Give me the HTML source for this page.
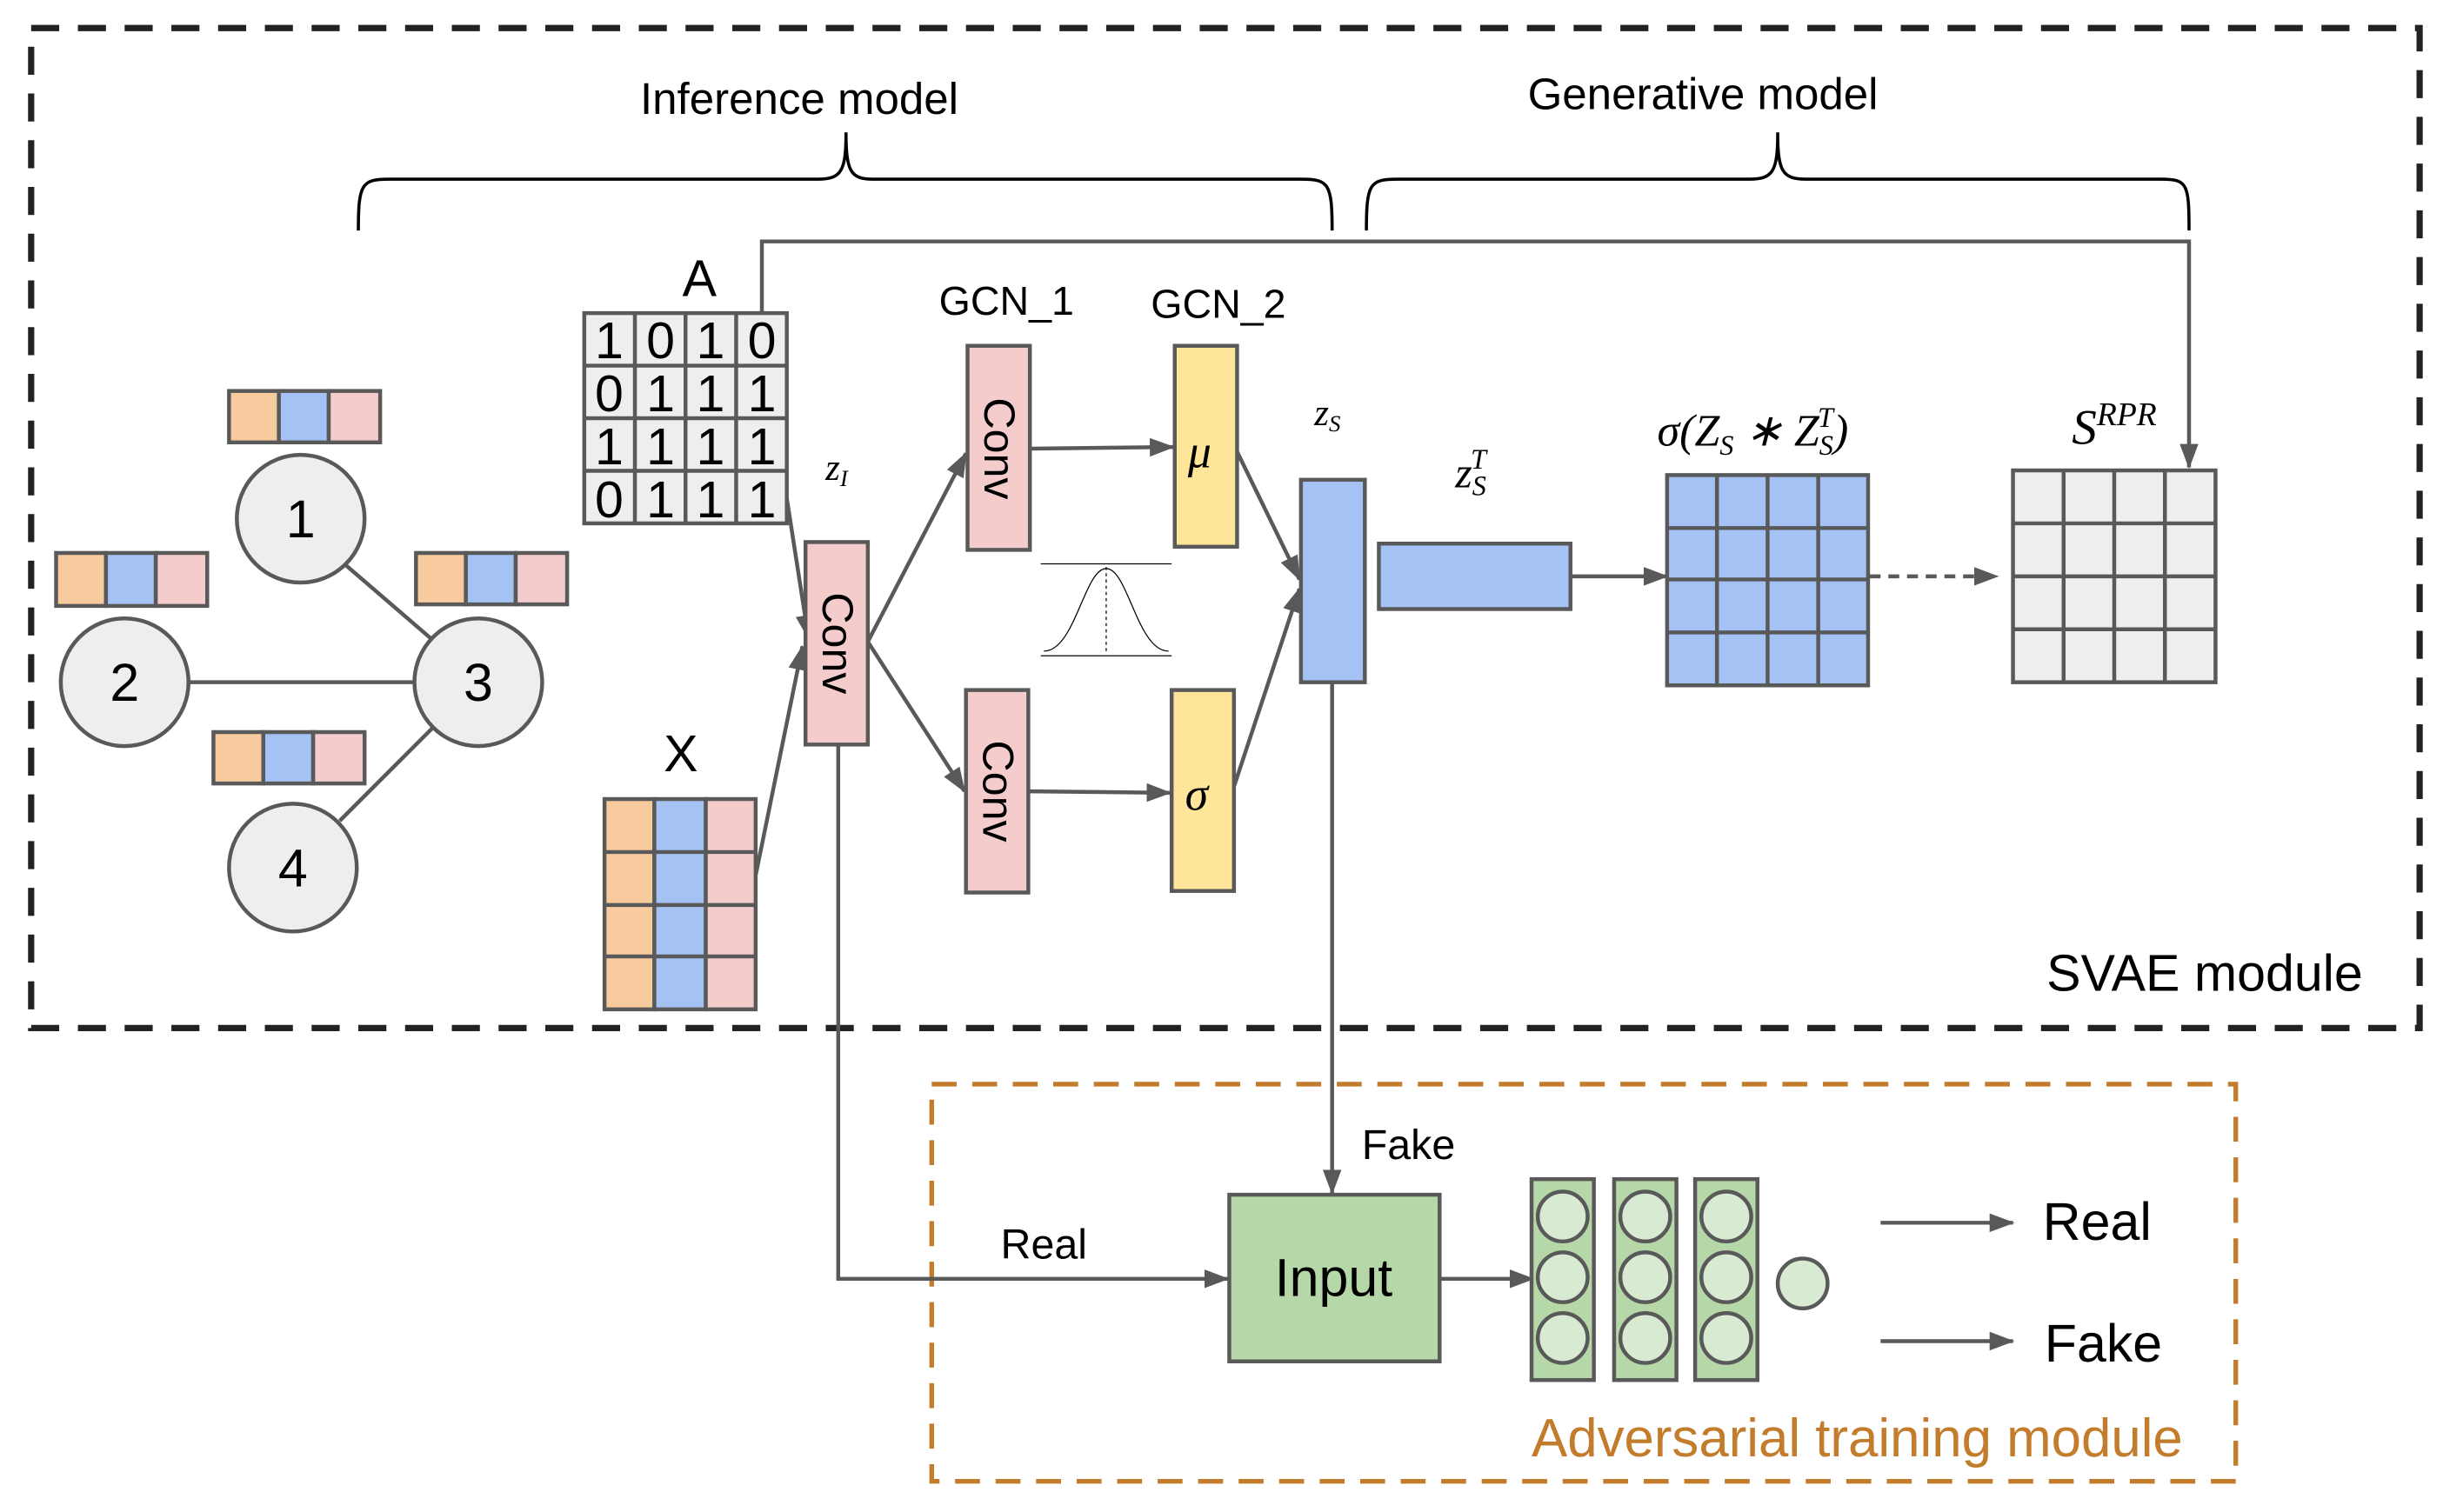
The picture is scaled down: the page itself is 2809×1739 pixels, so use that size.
<!DOCTYPE html>
<html><head><meta charset="utf-8"><style>
html,body{margin:0;padding:0;background:#fff;}
svg{display:block;}
text{font-family:"Liberation Sans",sans-serif;fill:#000;}
.m{font-family:"Liberation Serif",serif;font-style:italic;}
</style></head><body>
<svg width="2809" height="1739" viewBox="0 0 1568 970.7" preserveAspectRatio="none" xmlns="http://www.w3.org/2000/svg">
<defs>
<marker id="ar2" markerWidth="16" markerHeight="12" refX="15" refY="6" orient="auto" markerUnits="userSpaceOnUse">
<path d="M0,0 L16,6 L0,12 z" fill="#595959"/></marker>
</defs>
<g fill="none">
<rect x="20" y="18" width="1533" height="642" stroke="#222" stroke-width="4" stroke-dasharray="18,12"/>
<rect x="598" y="696" width="837" height="255" stroke="#c27c2c" stroke-width="3" stroke-dasharray="16,10"/>
<path d="M230,148 C230,118 232,115 250,115 L525,115 C540,115 543,110 543,85 C543,110 546,115 560,115 L835,115 C853,115 855,118 855,148" stroke="#000" stroke-width="2"/>
<path d="M877,148 C877,118 879,115 897,115 L1123,115 C1138,115 1141,110 1141,85 C1141,110 1144,115 1159,115 L1387,115 C1404,115 1405,118 1405,148" stroke="#000" stroke-width="2"/>
</g>
<text x="513" y="73" font-size="28.5" text-anchor="middle">Inference model</text>
<text x="1093" y="70" font-size="28.5" text-anchor="middle">Generative model</text>

<g stroke="#595959" stroke-width="2.5" fill="none">
<polyline points="489,200 489,155 1405,155 1405,300" marker-end="url(#ar2)"/>
<line x1="221" y1="362" x2="279" y2="412"/>
<line x1="121" y1="438" x2="266" y2="438"/>
<line x1="279" y1="466" x2="218" y2="527"/>
</g>
<g stroke="#595959" stroke-width="2.5">
<rect x="147" y="251" width="32" height="33" fill="#f8cb9e"/><rect x="179" y="251" width="32" height="33" fill="#a4c2f4"/><rect x="211" y="251" width="33" height="33" fill="#f4cccc"/>
<rect x="36" y="355" width="32" height="34" fill="#f8cb9e"/><rect x="68" y="355" width="32" height="34" fill="#a4c2f4"/><rect x="100" y="355" width="33" height="34" fill="#f4cccc"/>
<rect x="267" y="355" width="32" height="33" fill="#f8cb9e"/><rect x="299" y="355" width="32" height="33" fill="#a4c2f4"/><rect x="331" y="355" width="33" height="33" fill="#f4cccc"/>
<rect x="137" y="470" width="32" height="33" fill="#f8cb9e"/><rect x="169" y="470" width="32" height="33" fill="#a4c2f4"/><rect x="201" y="470" width="33" height="33" fill="#f4cccc"/>
<circle cx="193" cy="333" r="41" fill="#eeeeee"/>
<circle cx="80" cy="438" r="41" fill="#eeeeee"/>
<circle cx="307" cy="438" r="41" fill="#eeeeee"/>
<circle cx="188" cy="557" r="41" fill="#eeeeee"/>
</g>
<g font-size="34" text-anchor="middle">
<text x="193" y="345">1</text><text x="80" y="450">2</text><text x="307" y="450">3</text><text x="188" y="569">4</text>
</g>

<text x="449" y="190" font-size="33" text-anchor="middle">A</text>
<g stroke="#595959" stroke-width="2.5" fill="#eeeeee">
<rect x="375" y="201" width="130" height="135"/>
<line x1="407.5" y1="201" x2="407.5" y2="336"/><line x1="440" y1="201" x2="440" y2="336"/><line x1="472.5" y1="201" x2="472.5" y2="336"/>
<line x1="375" y1="234.75" x2="505" y2="234.75"/><line x1="375" y1="268.5" x2="505" y2="268.5"/><line x1="375" y1="302.25" x2="505" y2="302.25"/>
</g>
<g font-size="33" text-anchor="middle">
<text x="391" y="230">1</text><text x="424" y="230">0</text><text x="456" y="230">1</text><text x="489" y="230">0</text>
<text x="391" y="264">0</text><text x="424" y="264">1</text><text x="456" y="264">1</text><text x="489" y="264">1</text>
<text x="391" y="298">1</text><text x="424" y="298">1</text><text x="456" y="298">1</text><text x="489" y="298">1</text>
<text x="391" y="332">0</text><text x="424" y="332">1</text><text x="456" y="332">1</text><text x="489" y="332">1</text>
</g>
<text x="437" y="495" font-size="33" text-anchor="middle">X</text>
<g stroke="#595959" stroke-width="2.5">
<rect x="388" y="513" width="32" height="135" fill="#f8cb9e"/>
<rect x="420" y="513" width="33" height="135" fill="#a4c2f4"/>
<rect x="453" y="513" width="32" height="135" fill="#f4cccc"/>
<line x1="388" y1="547" x2="485" y2="547"/><line x1="388" y1="581" x2="485" y2="581"/><line x1="388" y1="614" x2="485" y2="614"/>
</g>

<g stroke="#595959" stroke-width="2.5" fill="none">
<line x1="505" y1="320" x2="519" y2="410" marker-end="url(#ar2)"/>
<line x1="485" y1="562" x2="515" y2="415" marker-end="url(#ar2)"/>
<line x1="557" y1="412" x2="620" y2="291" marker-end="url(#ar2)"/>
<line x1="557" y1="412" x2="619" y2="508" marker-end="url(#ar2)"/>
<line x1="661" y1="288" x2="753" y2="287" marker-end="url(#ar2)"/>
<line x1="660" y1="508" x2="751" y2="509" marker-end="url(#ar2)"/>
<line x1="794" y1="290" x2="834" y2="372" marker-end="url(#ar2)"/>
<line x1="792" y1="505" x2="834" y2="378" marker-end="url(#ar2)"/>
<line x1="1008" y1="370" x2="1070" y2="370" marker-end="url(#ar2)"/>
<line x1="1200" y1="370" x2="1282" y2="370" stroke-dasharray="7,5" marker-end="url(#ar2)"/>
<polyline points="855,438 855,766" marker-end="url(#ar2)"/>
<polyline points="538,478 538,821 788,821" marker-end="url(#ar2)"/>
<line x1="924" y1="821" x2="984" y2="821" marker-end="url(#ar2)"/>
<line x1="1207" y1="785" x2="1292" y2="785" marker-end="url(#ar2)"/>
<line x1="1207" y1="861" x2="1292" y2="861" marker-end="url(#ar2)"/>
</g>

<g stroke="#595959" stroke-width="2.5">
<rect x="517" y="348" width="40" height="130" fill="#f4cccc"/>
<rect x="621" y="222" width="40" height="131" fill="#f4cccc"/>
<rect x="620" y="443" width="40" height="130" fill="#f4cccc"/>
<rect x="754" y="222" width="40" height="129" fill="#ffe599"/>
<rect x="752" y="443" width="40" height="129" fill="#ffe599"/>
<rect x="835" y="308" width="41" height="130" fill="#a4c2f4"/>
<rect x="885" y="349" width="123" height="42" fill="#a4c2f4"/>
</g>
<g font-size="28" text-anchor="middle">
<text transform="translate(528,413) rotate(90)">Conv</text>
<text transform="translate(632,288) rotate(90)">Conv</text>
<text transform="translate(631,508) rotate(90)">Conv</text>
</g>
<text x="646" y="202" font-size="26" text-anchor="middle">GCN_1</text>
<text x="782" y="204" font-size="26" text-anchor="middle">GCN_2</text>
<text x="770" y="300" font-size="30" class="m" text-anchor="middle">μ</text>
<text x="768" y="520" font-size="30" class="m" text-anchor="middle">σ</text>
<text x="537" y="308" font-size="24" class="m" text-anchor="middle">z<tspan font-size="15" dy="4">I</tspan></text>
<text x="852" y="273" font-size="24" class="m" text-anchor="middle">z<tspan font-size="15" dy="4">S</tspan></text>
<text x="944" y="313" font-size="28" class="m" text-anchor="middle">z<tspan font-size="18" dy="5">S</tspan><tspan font-size="18" dx="-10" dy="-17">T</tspan></text>
<text x="1125" y="286" font-size="29" class="m" text-anchor="middle">σ(Z<tspan font-size="18" dy="6">S</tspan><tspan dy="-6"> ∗ Z</tspan><tspan font-size="18" dy="6">S</tspan><tspan font-size="18" dx="-10" dy="-18">T</tspan><tspan dy="12">)</tspan></text>
<text x="1357" y="285" font-size="32" class="m" text-anchor="middle">S<tspan font-size="21" dy="-12">RPR</tspan></text>

<g stroke="#000" fill="none" stroke-width="0.7">
<line x1="668" y1="362" x2="752" y2="362"/>
<line x1="668" y1="421" x2="752" y2="421"/>
<line x1="710" y1="364" x2="710" y2="420" stroke-dasharray="2,2"/>
<path d="M670,418 C690,418 696,365 710,365 C724,365 730,418 750,418"/>
</g>

<g stroke="#595959" stroke-width="2.5" fill="#a4c2f4">
<rect x="1070" y="305" width="129" height="135"/>
<line x1="1102" y1="305" x2="1102" y2="440"/><line x1="1134.5" y1="305" x2="1134.5" y2="440"/><line x1="1167" y1="305" x2="1167" y2="440"/>
<line x1="1070" y1="339" x2="1199" y2="339"/><line x1="1070" y1="372" x2="1199" y2="372"/><line x1="1070" y1="406" x2="1199" y2="406"/>
</g>
<g stroke="#595959" stroke-width="2.5" fill="#eeeeee">
<rect x="1292" y="302" width="130" height="136"/>
<line x1="1324.5" y1="302" x2="1324.5" y2="438"/><line x1="1357" y1="302" x2="1357" y2="438"/><line x1="1389.5" y1="302" x2="1389.5" y2="438"/>
<line x1="1292" y1="336" x2="1422" y2="336"/><line x1="1292" y1="370" x2="1422" y2="370"/><line x1="1292" y1="404" x2="1422" y2="404"/>
</g>
<text x="1415" y="636" font-size="33" text-anchor="middle">SVAE module</text>

<text x="904" y="744" font-size="27" text-anchor="middle">Fake</text>
<text x="670" y="808" font-size="27" text-anchor="middle">Real</text>
<rect x="789" y="767" width="135" height="107" fill="#b6d7a8" stroke="#595959" stroke-width="2.5"/>
<text x="856" y="832" font-size="34" text-anchor="middle">Input</text>
<g stroke="#595959" stroke-width="2.5" fill="#b6d7a8">
<rect x="983" y="757" width="40" height="129"/><rect x="1036" y="757" width="40" height="129"/><rect x="1088" y="757" width="40" height="129"/>
</g>
<g stroke="#595959" stroke-width="2.5" fill="#d9ead3">
<circle cx="1003" cy="781" r="16"/><circle cx="1003" cy="820" r="16"/><circle cx="1003" cy="859" r="16"/>
<circle cx="1056" cy="781" r="16"/><circle cx="1056" cy="820" r="16"/><circle cx="1056" cy="859" r="16"/>
<circle cx="1108" cy="781" r="16"/><circle cx="1108" cy="820" r="16"/><circle cx="1108" cy="859" r="16"/>
<circle cx="1157" cy="824" r="16"/>
</g>
<text x="1346" y="796" font-size="34" text-anchor="middle">Real</text>
<text x="1350" y="874" font-size="34" text-anchor="middle">Fake</text>
<text x="1192" y="935" font-size="34.5" text-anchor="middle" style="fill:#c27c2c">Adversarial training module</text>
</svg>
</body></html>
